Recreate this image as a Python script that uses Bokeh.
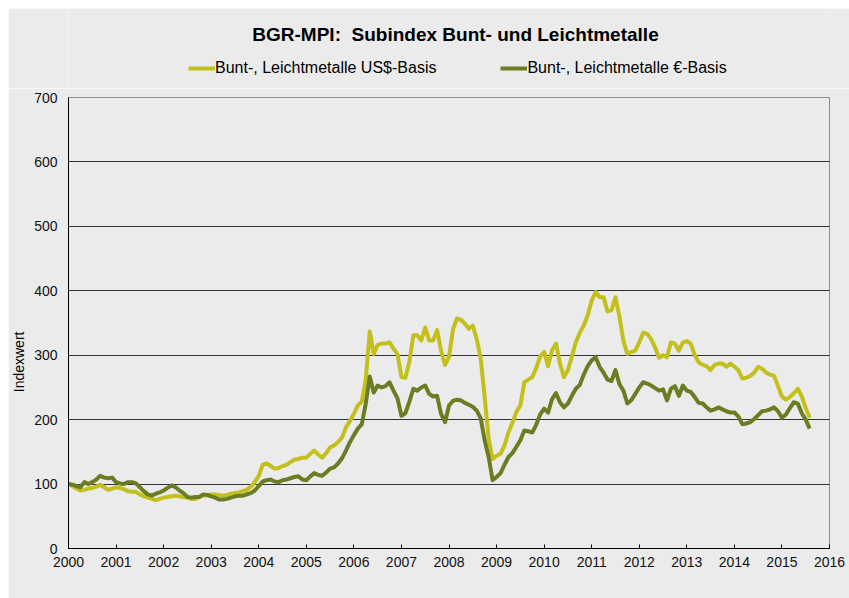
from bokeh.plotting import figure
from bokeh.models import (Range1d, FixedTicker, Legend, LegendItem, Label,
                          ColumnDataSource, Spacer)
from bokeh.layouts import column, row
from bokeh.embed import file_html
from bokeh.resources import INLINE

# ---------------- data (monthly, Jan 2000 - Aug 2015) ----------------
start_year = 2000
usd_basis = [
    100, 97, 93, 90, 91, 93, 94, 96, 99, 95, 91, 93,          # 2000
    95, 94, 92, 89, 88, 88, 84, 81, 79, 77, 75, 77,           # 2001
    79, 80, 81, 82, 81, 80, 79, 77, 77, 80, 82, 83,           # 2002
    84, 84, 83, 82, 83, 85, 86, 87, 89, 91, 96, 103,          # 2003
    113, 130, 132, 128, 124, 125, 128, 130, 134, 138, 139, 141,  # 2004
    141, 147, 152, 146, 141, 148, 157, 160, 165, 172, 188, 198,  # 2005
    209, 222, 228, 262, 337, 302, 316, 318, 318, 320, 310, 302,  # 2006
    266, 265, 290, 331, 331, 323, 343, 323, 323, 339, 307, 285,  # 2007
    297, 340, 357, 355, 349, 341, 346, 325, 295, 235, 170, 139,  # 2008
    144, 147, 160, 180, 195, 212, 222, 258, 262, 266, 280, 298,  # 2009
    305, 283, 308, 318, 287, 266, 277, 298, 320, 335, 346, 362,  # 2010
    385, 398, 390, 390, 368, 370, 390, 360, 322, 302, 305, 307,  # 2011
    320, 335, 333, 325, 312, 296, 300, 297, 320, 318, 307, 320,  # 2012
    322, 318, 300, 289, 285, 283, 277, 285, 287, 287, 282, 287,  # 2013
    282, 277, 264, 265, 268, 273, 282, 279, 273, 270, 268, 252,  # 2014
    236, 231, 235, 241, 248, 236, 218, 203,                      # 2015
]
eur_basis = [
    100, 99, 97, 95, 103, 100, 103, 107, 113, 110, 109, 110,     # 2000
    103, 101, 100, 103, 103, 101, 95, 89, 84, 82, 85, 87,        # 2001
    90, 94, 98, 95, 90, 86, 80, 79, 80, 80, 84, 83,              # 2002
    81, 79, 76, 76, 77, 79, 81, 82, 82, 84, 86, 90,              # 2003
    97, 104, 106, 107, 104, 103, 106, 107, 109, 111, 112, 107,   # 2004
    106, 112, 117, 114, 113, 118, 124, 126, 132, 140, 152, 165,  # 2005
    176, 186, 193, 225, 267, 242, 253, 250, 252, 258, 245, 233,  # 2006
    206, 210, 228, 248, 245, 250, 253, 240, 236, 237, 209, 196,  # 2007
    222, 229, 231, 230, 226, 223, 220, 214, 202, 168, 142, 106,  # 2008
    111, 117, 130, 142, 148, 158, 168, 183, 182, 180, 192, 208,  # 2009
    217, 211, 232, 241, 227, 219, 225, 237, 248, 254, 270, 283,  # 2010
    292, 297, 282, 273, 262, 260, 277, 255, 245, 225, 230, 240,  # 2011
    250, 258, 256, 253, 249, 245, 247, 230, 248, 252, 237, 253,  # 2012
    245, 243, 235, 226, 225, 219, 214, 216, 219, 216, 213, 211,  # 2013
    211, 205, 193, 194, 196, 201, 207, 213, 214, 216, 219, 213,  # 2014
    203, 208, 218, 227, 225, 210, 200, 186,                      # 2015
]
year_ticks = list(range(2000, 2017))
value_ticks = [0, 100, 200, 300, 400, 500, 600, 700]

title_text = "BGR-MPI:\u00a0 Subindex Bunt- und Leichtmetalle"
label_usd = "Bunt-, Leichtmetalle US$-Basis"
label_eur = "Bunt-, Leichtmetalle \u20ac-Basis"
y_label = "Indexwert"

months = [start_year + i / 12.0 for i in range(len(usd_basis))]
src = ColumnDataSource(dict(t=months, usd=usd_basis, eur=eur_basis))

# ---------------- styling ----------------
BG = "#ebebeb"
FONT = "Liberation Sans"
c_usd = "#c3c01c"
c_eur = "#6b7d22"

# ---------------- header (title + legend) ----------------
# its frame is aligned with the main chart's frame by the column layout;
# its ranges lie outside the data, so its series lines only feed the legend
header = figure(width=841, height=80, output_backend="svg",
                toolbar_location=None, x_axis_type=None, y_axis_type=None,
                x_range=Range1d(0, 1), y_range=Range1d(0, 1), min_border=0)
header.background_fill_color = BG
header.border_fill_color = BG
header.outline_line_color = None
for g in header.grid:
    g.visible = False

h_usd = header.line("t", "usd", source=src, line_color=c_usd, line_width=4)
h_eur = header.line("t", "eur", source=src, line_color=c_eur, line_width=4)

header.add_layout(Label(x=387, y=54, x_units="screen", y_units="screen",
                        text=title_text, text_font=FONT,
                        text_font_style="bold", text_font_size="19px",
                        text_align="center", text_baseline="alphabetic",
                        text_color="black"))

legend = Legend(items=[LegendItem(label=label_usd, renderers=[h_usd]),
                       LegendItem(label=label_eur, renderers=[h_eur])],
                location=(120, 10), orientation="horizontal",
                glyph_width=27, glyph_height=20, label_height=20,
                label_standoff=0, spacing=64, padding=0, margin=0,
                border_line_color=None, background_fill_alpha=0,
                label_text_font=FONT, label_text_font_size="16px",
                label_text_color="black")
header.add_layout(legend)

# ---------------- main chart ----------------
p = figure(width=841, height=510, output_backend="svg", toolbar_location=None,
           x_range=Range1d(2000, 2016), y_range=Range1d(0, 700),
           min_border_left=58, min_border_right=20, min_border_top=9,
           min_border_bottom=50)
p.background_fill_color = BG
p.border_fill_color = BG
p.outline_line_color = "#8c8c8c"
p.outline_line_width = 1

p.line("t", "usd", source=src, line_color=c_usd, line_width=4,
       line_join="round")
p.line("t", "eur", source=src, line_color=c_eur, line_width=4,
       line_join="round")

p.xaxis.ticker = FixedTicker(ticks=year_ticks)
p.yaxis.ticker = FixedTicker(ticks=value_ticks)
for ax in (p.xaxis[0], p.yaxis[0]):
    ax.axis_line_color = "black"
    ax.axis_line_width = 1
    ax.minor_tick_line_color = None
    ax.major_label_text_font = FONT
    ax.major_label_text_font_size = "14px"
    ax.major_label_text_color = "#111111"
p.xaxis.major_tick_in = 4
p.xaxis.major_tick_out = 0
p.xaxis.major_tick_line_color = "black"
p.xaxis.major_label_standoff = 8
p.yaxis.major_tick_in = 0
p.yaxis.major_tick_out = 0
p.yaxis.major_label_standoff = 11
# trailing no-break spaces move the rotated label a little below centre
p.yaxis.axis_label = y_label + "\u00a0" * 20
p.yaxis.axis_label_text_font = FONT
p.yaxis.axis_label_text_font_size = "14px"
p.yaxis.axis_label_text_font_style = "normal"
p.yaxis.axis_label_text_color = "black"
p.yaxis.axis_label_standoff = 4

p.xgrid.visible = False
p.ygrid.ticker = FixedTicker(ticks=value_ticks)
p.ygrid.grid_line_color = "#333333"
p.ygrid.grid_line_width = 1

page = column(Spacer(height=8),
              row(Spacer(width=8), column(header, p)))

open("out.html", "w").write(file_html(page, INLINE))
